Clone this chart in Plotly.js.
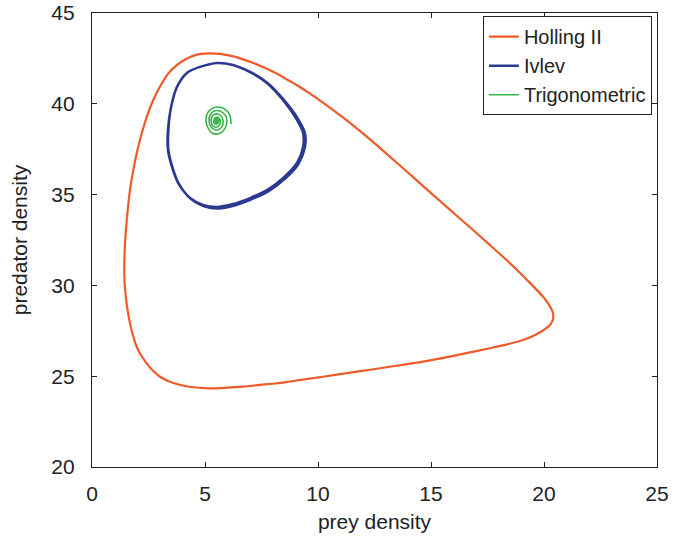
<!DOCTYPE html>
<html>
<head>
<meta charset="utf-8">
<script src="https://cdn.plot.ly/plotly-3.0.1.min.js"></script>
<style>html,body{margin:0;padding:0;background:#fff;}#chart{width:682px;height:538px;}</style>
</head>
<body>
<div id="chart"></div>
<script>
// Holling II limit cycle (prey, predator)
var hollingX = [5.22,4.82,4.47,4.12,3.76,3.36,3.01,2.70,2.42,2.18,1.98,1.82,1.68,1.56,1.47,1.43,1.44,1.50,1.58,1.68,
                1.82,1.98,2.18,2.42,2.69,3.01,3.36,3.75,4.12,4.48,5.22,5.97,6.68,7.43,8.19,8.76,10.22,11.73,13.19,14.65,
                16.15,17.61,18.36,19.07,19.65,20.09,20.31,20.41,20.38,20.27,20.00,19.68,19.25,18.81,18.27,17.61,16.86,16.15,15.40,14.65,
                13.94,13.19,12.43,11.73,10.97,10.22,9.65,9.07,8.63,8.19,7.66,7.12,6.59,6.11,5.66,5.22];
var hollingY = [42.78,42.75,42.64,42.44,42.14,41.64,40.95,40.18,39.27,38.28,37.29,36.30,35.25,33.88,32.50,31.23,30.19,29.36,28.59,27.93,
                27.21,26.61,26.14,25.71,25.31,24.97,24.74,24.57,24.46,24.39,24.33,24.37,24.43,24.52,24.61,24.71,24.97,25.25,25.52,25.80,
                26.16,26.54,26.75,26.99,27.30,27.63,27.90,28.19,28.54,28.83,29.31,29.75,30.30,30.85,31.48,32.22,33.05,33.82,34.65,35.47,
                36.26,37.08,37.90,38.63,39.37,40.06,40.56,41.02,41.34,41.65,41.97,42.26,42.49,42.65,42.75,42.78];

// Ivlev cycle (two passes, slightly offset)
var ivlevX = [5.53,4.78,4.20,3.76,3.50,3.36,3.36,3.54,3.81,4.34,4.91,5.53,6.24,6.99,7.74,8.45,9.07,9.34,9.34,9.07,8.45,7.74,6.99,6.24,5.53,
              4.78,4.20,3.76,3.50,3.38,3.38,3.56,3.84,4.38,4.96,5.58,6.30,7.05,7.80,8.52,9.14,9.42,9.42,9.14,8.50,7.78,7.02,6.26,5.53];
var ivlevY = [42.25,42.03,41.70,40.93,39.82,38.56,37.46,36.52,35.64,34.81,34.43,34.32,34.48,34.81,35.25,35.91,36.74,37.62,38.39,39.11,40.21,41.15,41.75,42.14,42.25,
              42.03,41.70,40.93,39.82,38.56,37.46,36.50,35.60,34.75,34.36,34.24,34.40,34.74,35.18,35.85,36.70,37.60,38.40,39.12,40.20,41.14,41.74,42.13,42.25];

// Trigonometric spiral converging to equilibrium
var trigX = [6.15,6.11,5.93,5.58,5.27,5.09,5.04,5.13,5.31,5.58,5.80,5.93,5.97,
             5.89,5.66,5.40,5.22,5.18,5.27,5.49,5.71,5.80,5.75,
             5.58,5.35,5.27,5.35,5.53,5.66,5.66,
             5.53,5.42,5.40,5.50,5.60,5.58,5.49,5.45,5.47,5.53,5.55,5.50,5.48,5.51,5.52,5.50];
var trigY = [38.89,39.33,39.66,39.82,39.71,39.44,39.05,38.67,38.39,38.34,38.50,38.78,39.11,
             39.38,39.60,39.60,39.38,39.05,38.72,38.56,38.67,38.94,39.27,
             39.44,39.38,39.11,38.78,38.72,38.89,39.16,
             39.27,39.20,38.96,38.88,38.98,39.14,39.20,39.08,38.96,38.95,39.05,39.13,39.05,38.99,39.04,39.05];

var xTicks = [0,5,10,15,20,25];
var yTicks = [20,25,30,35,40,45];

var font = 'Arial, "Liberation Sans", sans-serif';

var traces = [
  {x: hollingX, y: hollingY, name: 'Holling II', mode: 'lines',
   line: {color: '#F05A28', width: 2.2, shape: 'spline', smoothing: 0.8}},
  {x: ivlevX, y: ivlevY, name: 'Ivlev', mode: 'lines',
   line: {color: '#2B3990', width: 2.5, shape: 'spline', smoothing: 0.8}},
  {x: trigX, y: trigY, name: 'Trigonometric', mode: 'lines',
   line: {color: '#39B54A', width: 1.6, shape: 'spline', smoothing: 0.8}}
];

var axisCommon = {
  showgrid: false, zeroline: false, showline: true, linecolor: '#222', linewidth: 1.2,
  mirror: 'ticks', ticks: 'inside', ticklen: 5, tickcolor: '#222', tickwidth: 1,
  tickfont: {family: font, size: 21, color: '#222'}
};

var layout = {
  width: 682, height: 538,
  margin: {l: 92, r: 25, t: 13, b: 71},
  paper_bgcolor: '#fff', plot_bgcolor: '#fff',
  showlegend: true,
  xaxis: Object.assign({}, axisCommon, {
    range: [0, 25], tickvals: xTicks, ticktext: xTicks.map(String),
    ticklabelstandoff: 8,
    title: {text: 'prey density', font: {family: font, size: 21, color: '#222'}, standoff: 9}
  }),
  yaxis: Object.assign({}, axisCommon, {
    range: [20, 45], tickvals: yTicks, ticktext: yTicks.map(String),
    ticklabelstandoff: 12,
    title: {text: 'predator density', font: {family: font, size: 21, color: '#222'}, standoff: 17}
  }),
  legend: {
    x: 0.991, y: 0.993, xanchor: 'right', yanchor: 'top',
    bordercolor: '#222', borderwidth: 1, bgcolor: '#fff',
    font: {family: font, size: 20, color: '#222'},
    tracegroupgap: 0
  }
};

Plotly.newPlot('chart', traces, layout, {displayModeBar: false, staticPlot: true});
</script>
</body>
</html>
